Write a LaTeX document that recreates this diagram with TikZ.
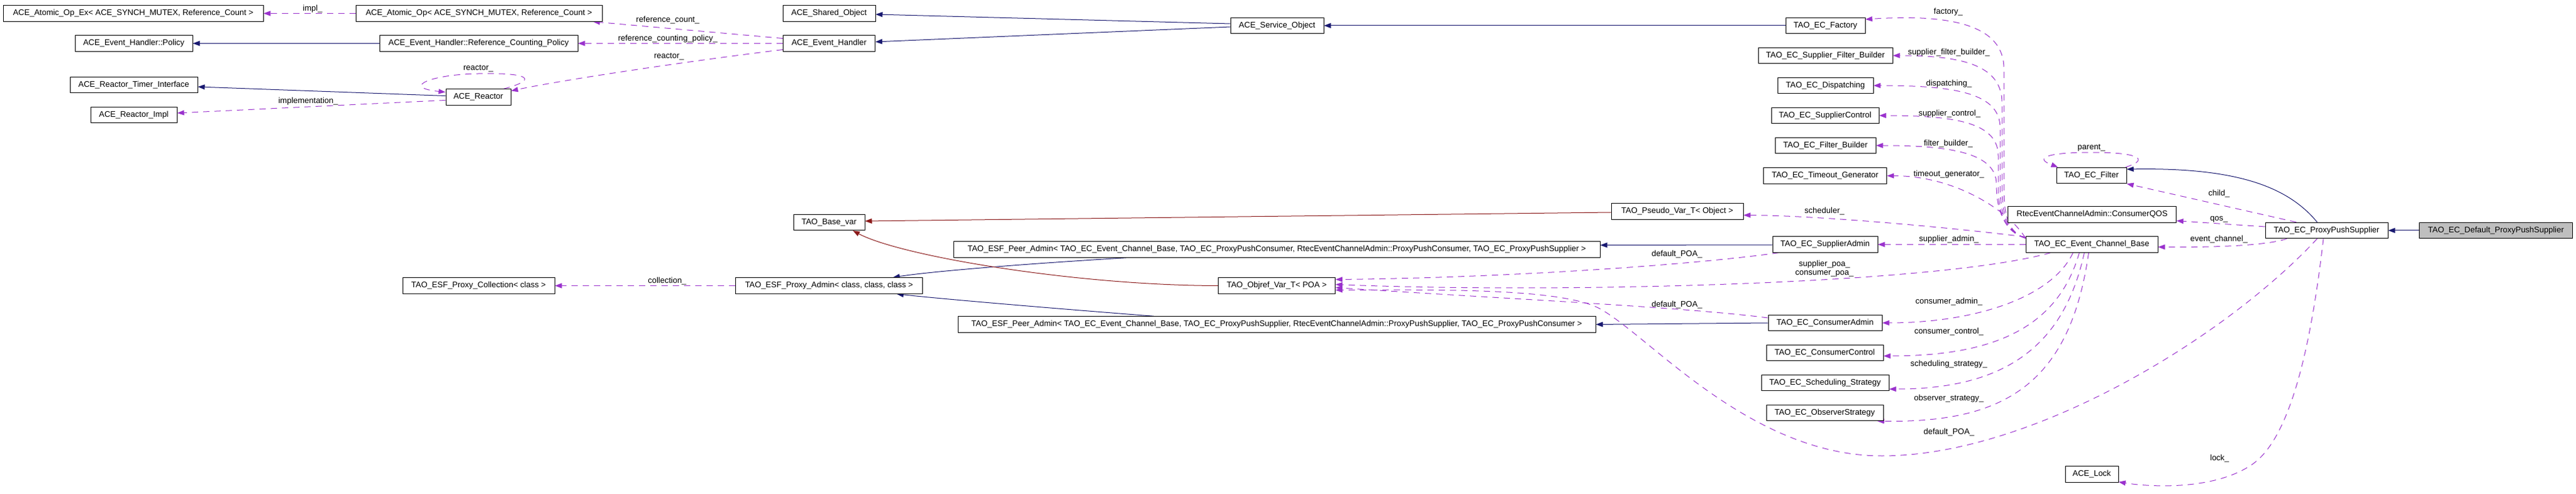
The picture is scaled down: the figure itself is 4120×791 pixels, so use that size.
\documentclass[tikz,border=0pt]{standalone}
\usepackage{fontspec}
\setmainfont{Liberation Sans}
\usetikzlibrary{arrows.meta,calc}
\definecolor{edgeblue}{HTML}{191970}
\definecolor{edgered}{HTML}{8B1A1A}
\definecolor{edgepurple}{HTML}{9A32CD}
\definecolor{boxgray}{HTML}{BFBFBF}
\pgfdeclarelayer{bg}
\pgfsetlayers{bg,main}
\tikzset{
  cls/.style={draw=black, line width=1pt, fill=white, minimum height=25.5pt, inner sep=0pt, font=\fontsize{13}{15}\selectfont},
  lab/.style={inner sep=0pt, font=\fontsize{13}{14}\selectfont, align=center},
  tipA/.tip={Triangle[length=11pt,width=8pt]},
  inh/.style={draw=edgeblue, line width=1pt, -tipA},
  tmpl/.style={draw=edgered, line width=1pt, -tipA},
  usage/.style={draw=edgepurple, line width=1pt, dash pattern=on 10pt off 8pt, -tipA}
}
\begin{document}
\begin{tikzpicture}[x=1pt,y=-1pt]
\useasboundingbox (0,0) rectangle (4120,791);
% nodes
\node[cls,minimum width=416pt] (atomicex) at (213,21.5) {ACE\_Atomic\_Op\_Ex< ACE\_SYNCH\_MUTEX, Reference\_Count >};
\node[cls,minimum width=394pt] (atomic) at (766,21.5) {ACE\_Atomic\_Op< ACE\_SYNCH\_MUTEX, Reference\_Count >};
\node[cls,minimum width=188pt] (policy) at (214,69.5) {ACE\_Event\_Handler::Policy};
\node[cls,minimum width=317pt] (rcpolicy) at (765.5,69.5) {ACE\_Event\_Handler::Reference\_Counting\_Policy};
\node[cls,minimum width=204pt] (timer) at (214,136) {ACE\_Reactor\_Timer\_Interface};
\node[cls,minimum width=138pt] (impl) at (214,184) {ACE\_Reactor\_Impl};
\node[cls,minimum width=104pt] (reactor) at (765,155.5) {ACE\_Reactor};
\node[cls,minimum width=148pt] (shared) at (1326,21.5) {ACE\_Shared\_Object};
\node[cls,minimum width=147pt] (evh) at (1326,69.5) {ACE\_Event\_Handler};
\node[cls,minimum width=149pt] (svc) at (2042.5,41) {ACE\_Service\_Object};
\node[cls,minimum width=127pt] (factory) at (2919.5,41) {TAO\_EC\_Factory};
\node[cls,minimum width=215pt] (sfb) at (2919.5,89) {TAO\_EC\_Supplier\_Filter\_Builder};
\node[cls,minimum width=153pt] (disp) at (2919.5,137) {TAO\_EC\_Dispatching};
\node[cls,minimum width=172pt] (sctl) at (2919,185) {TAO\_EC\_SupplierControl};
\node[cls,minimum width=161pt] (fb) at (2919.5,233) {TAO\_EC\_Filter\_Builder};
\node[cls,minimum width=197pt] (tg) at (2919,281.5) {TAO\_EC\_Timeout\_Generator};
\node[cls,minimum width=211pt] (pseudo) at (2682.5,338.5) {TAO\_Pseudo\_Var\_T< Object >};
\node[cls,minimum width=168pt] (supadmin) at (2919,391.5) {TAO\_EC\_SupplierAdmin};
\node[cls,minimum width=187pt] (objref) at (2042,457.5) {TAO\_Objref\_Var\_T< POA >};
\node[cls,minimum width=1034pt] (peerc) at (2042,399.5) {TAO\_ESF\_Peer\_Admin< TAO\_EC\_Event\_Channel\_Base, TAO\_EC\_ProxyPushConsumer, RtecEventChannelAdmin::ProxyPushConsumer, TAO\_EC\_ProxyPushSupplier >};
\node[cls,minimum width=1020pt] (peers) at (2042,519.5) {TAO\_ESF\_Peer\_Admin< TAO\_EC\_Event\_Channel\_Base, TAO\_EC\_ProxyPushSupplier, RtecEventChannelAdmin::ProxyPushSupplier, TAO\_EC\_ProxyPushConsumer >};
\node[cls,minimum width=299pt] (proxyadmin) at (1326,457.5) {TAO\_ESF\_Proxy\_Admin< class, class, class >};
\node[cls,minimum width=243pt] (collection) at (765.5,457.5) {TAO\_ESF\_Proxy\_Collection< class >};
\node[cls,minimum width=114pt] (basevar) at (1326,356) {TAO\_Base\_var};
\node[cls,minimum width=112pt] (filter) at (3345,281) {TAO\_EC\_Filter};
\node[cls,minimum width=269pt] (qos) at (3346,343.5) {RtecEventChannelAdmin::ConsumerQOS};
\node[cls,minimum width=211pt] (ecb) at (3345.5,391.5) {TAO\_EC\_Event\_Channel\_Base};
\node[cls,minimum width=196pt] (pps) at (3721,369) {TAO\_EC\_ProxyPushSupplier};
\node[cls,minimum width=245pt,fill=boxgray] (dpps) at (3992,369) {TAO\_EC\_Default\_ProxyPushSupplier};
\node[cls,minimum width=182pt] (cadmin) at (2919,517) {TAO\_EC\_ConsumerAdmin};
\node[cls,minimum width=187pt] (cctl) at (2918.5,565) {TAO\_EC\_ConsumerControl};
\node[cls,minimum width=204pt] (sstrat) at (2919,613) {TAO\_EC\_Scheduling\_Strategy};
\node[cls,minimum width=187pt] (ostrat) at (2918.5,661) {TAO\_EC\_ObserverStrategy};
\node[cls,minimum width=85pt] (lock) at (3345.5,759.5) {ACE\_Lock};
% edges
\begin{pgfonlayer}{bg}
\fill[white] (0,0) rectangle (4120,791);
% inheritance
\draw[inh] ($(svc.west)+(0,-3)$) -- ($(shared.east)+(0,1.5)$);
\draw[inh] ($(svc.west)+(0,2)$) -- ($(evh.east)+(0,-2.5)$);
\draw[inh] (factory.west) -- (svc.east);
\draw[inh] (rcpolicy.west) -- (policy.east);
\draw[inh] ($(reactor.west)+(0,-2)$) -- ($(timer.east)+(0,3)$);
\draw[inh] ($(peerc.south)+(-241,0)$) .. controls (1600,425) and (1480,436) .. ($(proxyadmin.north)+(102,0)$);
\draw[inh] ($(peers.north)+(-197,0)$) .. controls (1700,495) and (1520,480) .. ($(proxyadmin.south)+(108,0)$);
\draw[inh] ($(supadmin.west)+(0,0.5)$) -- ($(peerc.east)+(0,-7)$);
\draw[inh] (cadmin.west) -- (peers.east);
\draw[inh] (dpps.west) -- (pps.east);
\draw[inh] ($(pps.north)+(-15,0)$) .. controls (3660,300) and (3580,268) .. ($(filter.east)+(0,-10)$);
% template
\draw[tmpl] ($(pseudo.west)+(0,1.5)$) -- ($(basevar.east)+(0,-2)$);
\draw[tmpl] (objref.west) .. controls (1720,457) and (1440,410) .. ($(basevar.south)+(38,0)$);
% usage
\draw[usage] (atomic.west) -- (atomicex.east);
\draw[usage] ($(evh.west)+(0,-8)$) -- ($(atomic.south east)+(-15,0)$);
\draw[usage] (evh.west) -- (rcpolicy.east);
\draw[usage] ($(evh.west)+(0,10)$) .. controls (1100,98) and (900,128) .. ($(reactor.east)+(0,-10)$);
\draw[usage] ($(reactor.north east)+(-12,0)$) .. controls (860,128) and (850,116) .. (765,118) .. controls (690,119) and (640,140) .. ($(reactor.west)+(0,-8)$);
\draw[usage] ($(reactor.west)+(0,5)$) -- ($(impl.east)+(0,-3)$);
\draw[usage] (proxyadmin.west) -- (collection.east);
\draw[usage] ($(ecb.north west)+(0,3)$) .. controls (3212,372) and (3205,345) .. (3205,300) -- (3205,110) .. controls (3205,40) and (3120,22) .. ($(factory.east)+(0,-10)$);
\draw[usage] ($(ecb.north west)+(0,3)$) .. controls (3211,372) and (3202,345) .. (3202,300) -- (3202,165) .. controls (3202,105) and (3140,89) .. (sfb.east);
\draw[usage] ($(ecb.north west)+(0,3)$) .. controls (3210,372) and (3199,345) .. (3199,300) -- (3199,205) .. controls (3199,150) and (3130,137) .. (disp.east);
\draw[usage] ($(ecb.north west)+(0,3)$) .. controls (3209,372) and (3196,345) .. (3196,300) -- (3196,250) .. controls (3196,197) and (3130,185) .. (sctl.east);
\draw[usage] ($(ecb.north west)+(0,3)$) .. controls (3208,372) and (3193,340) .. (3193,295) .. controls (3193,245) and (3120,233) .. (fb.east);
\draw[usage] ($(ecb.north west)+(0,3)$) .. controls (3215,340) and (3130,281.5) .. (tg.east);
\draw[usage] ($(ecb.north west)+(0,1)$) .. controls (3100,362) and (2900,345) .. ($(pseudo.east)+(0,6)$);
\draw[usage] (ecb.west) -- (supadmin.east);
\draw[usage] ($(ecb.south west)+(40,0)$) .. controls (3100,455) and (2500,470) .. ($(objref.east)+(0,-2)$);
\draw[usage] ($(supadmin.south west)+(10,0)$) .. controls (2700,425) and (2400,445) .. ($(objref.east)+(0,-10)$);
\draw[usage] ($(cadmin.west)+(0,-8)$) .. controls (2700,492) and (2400,478) .. ($(objref.east)+(0,3)$);
\draw[usage] ($(pps.south)+(-15,0)$) .. controls (3560,540) and (3250,730) .. (3010,730) .. controls (2800,730) and (2640,540) .. (2560,495) .. controls (2500,461) and (2300,464) .. ($(objref.east)+(0,7)$);
\draw[usage] ($(ecb.south)+(-30,0)$) .. controls (3280,480) and (3150,517) .. (cadmin.east);
\draw[usage] ($(ecb.south)+(-20,0)$) .. controls (3290,530) and (3180,570) .. ($(cctl.east)+(0,5)$);
\draw[usage] ($(ecb.south)+(-12,0)$) .. controls (3300,560) and (3200,623) .. ($(sstrat.east)+(0,10)$);
\draw[usage] ($(ecb.south)+(-5,0)$) .. controls (3310,620) and (3200,677) .. ($(ostrat.south east)+(-10,0)$);
\draw[usage] ($(pps.north west)+(50,0)$) -- (filter.south east);
\draw[usage] ($(pps.west)+(0,-6)$) -- ($(qos.east)+(0,10)$);
\draw[usage] ($(pps.south west)+(35,0)$) .. controls (3620,395) and (3520,396) .. ($(ecb.east)+(0,4)$);
\draw[usage] ($(pps.south)+(-5,0)$) .. controls (3700,520) and (3670,700) .. (3600,745) .. controls (3540,785) and (3440,780) .. ($(lock.south east)+(0,-1)$);
\draw[usage] ($(filter.north east)+(-2,0)$) .. controls (3440,255) and (3420,244) .. (3345,244) .. controls (3280,244) and (3250,252) .. ($(filter.north west)+(3,0)$);
\end{pgfonlayer}
% labels
\node[lab] (l1) at (500,14) {impl\_};
\node[lab] (l2) at (1068,32) {reference\_count\_};
\node[lab] (l3) at (1068,62) {reference\_counting\_policy\_};
\node[lab] (l4) at (1070,91) {reactor\_};
\node[lab] (l5) at (765,110) {reactor\_};
\node[lab] (l6) at (493,162) {implementation\_};
\node[lab] (l7) at (1067,450) {collection\_};
\node[lab] (l8) at (3116,19) {factory\_};
\node[lab] (l9) at (3117,84) {supplier\_filter\_builder\_};
\node[lab] (l10) at (3117,134) {dispatching\_};
\node[lab] (l11) at (3118,182) {supplier\_control\_};
\node[lab] (l12) at (3116,230) {filter\_builder\_};
\node[lab] (l13) at (3117,279) {timeout\_generator\_};
\node[lab] (l14) at (2918,338) {scheduler\_};
\node[lab] (l15) at (3117,383) {supplier\_admin\_};
\node[lab] (l16) at (2682,407) {default\_POA\_};
\node[lab] (l17) at (2918,430) {supplier\_poa\_\\consumer\_poa\_};
\node[lab] (l18) at (2682,488) {default\_POA\_};
\node[lab] (l19) at (3117,483) {consumer\_admin\_};
\node[lab] (l20) at (3117,531) {consumer\_control\_};
\node[lab] (l21) at (3117,583) {scheduling\_strategy\_};
\node[lab] (l22) at (3117,638) {observer\_strategy\_};
\node[lab] (l23) at (3117,692) {default\_POA\_};
\node[lab] (l24) at (3345,237) {parent\_};
\node[lab] (l25) at (3549,310) {child\_};
\node[lab] (l26) at (3549,351) {qos\_};
\node[lab] (l27) at (3549,383) {event\_channel\_};
\node[lab] (l28) at (3550,734) {lock\_};
\end{tikzpicture}
\end{document}
